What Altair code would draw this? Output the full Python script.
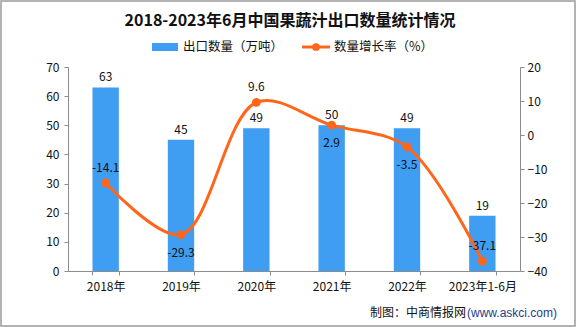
import altair as alt
import pandas as pd

# ---- data ----
years = ["2018年", "2019年", "2020年", "2021年", "2022年", "2023年1-6月"]
volume = [63, 45, 49, 50, 49, 19]          # 出口数量（万吨）
growth = [-14.1, -29.3, 9.6, 2.9, -3.5, -37.1]  # 数量增长率（%）

title_text = "2018-2023年6月中国果蔬汁出口数量统计情况"
legend_bar = "出口数量（万吨）"
legend_line = "数量增长率（%）"
source_a = "制图：中商情报网"
source_b = "(www.askci.com)"

# label placement (style)
growth_above = ["2018年", "2020年", "2023年1-6月"]

df = pd.DataFrame({"year": years, "volume": volume, "growth": growth})
df["glabel"] = [f"{g:.1f}" for g in growth]

BAR = "#3F9DF2"
LINE = "#FF661A"
AXC = "#8C8C8C"
FONT = "Noto Sans CJK SC"

xenc = alt.X("year:N", sort=years, title=None,
             scale=alt.Scale(paddingInner=0.65, paddingOuter=0.325),
             axis=alt.Axis(labelAngle=0, tickBand="extent", domainColor=AXC, tickColor=AXC,
                           tickSize=4, labelPadding=6, labelFontSize=12, labelColor="#111",
                           labelFont=FONT, grid=False))

base = alt.Chart(df)

yleft = alt.Y("volume:Q", title=None,
              scale=alt.Scale(domain=[0, 70], nice=False),
              axis=alt.Axis(values=list(range(0, 71, 10)), domainColor=AXC, tickColor=AXC,
                            tickSize=4, labelPadding=5, labelFontSize=12, labelColor="#111",
                            labelFont=FONT, grid=False, title=None))

bars = base.mark_bar(color=BAR).encode(x=xenc, y=yleft)
bar_text = base.mark_text(dy=-10, fontSize=12, font=FONT, color="#111", baseline="middle").encode(
    x=xenc, y=yleft, text="volume:Q")
left = alt.layer(bars, bar_text)

yline = alt.Y("growth:Q", title=None,
              scale=alt.Scale(domain=[-40, 20], nice=False),
              axis=alt.Axis(orient="right", values=list(range(-40, 21, 10)), domainColor=AXC,
                            tickColor=AXC, tickSize=4, labelPadding=3, labelFontSize=12,
                            labelColor="#111", labelFont=FONT, grid=False, title=None))

line = base.mark_line(color=LINE, strokeWidth=3, interpolate="catmull-rom").encode(
    x=xenc, y=yline)
pts = base.mark_point(color=LINE, filled=True, opacity=1, size=80).encode(
    x=xenc, y=yline)
lab_above = base.transform_filter(
    alt.FieldOneOfPredicate(field="year", oneOf=growth_above)
).mark_text(dy=-15, fontSize=12, font=FONT, color="#111").encode(
    x=xenc, y=yline, text="glabel:N")
lab_below = base.transform_filter(
    ~alt.FieldOneOfPredicate(field="year", oneOf=growth_above)
).mark_text(dy=18, fontSize=12, font=FONT, color="#111").encode(
    x=xenc, y=yline, text="glabel:N")
right = alt.layer(line, pts, lab_above, lab_below)

one = alt.Chart(pd.DataFrame({"k": [0]}))

title = one.mark_text(fontSize=16, fontWeight="bold", font=FONT, color="#111",
                      align="center", baseline="middle").encode(
    x=alt.value(222), y=alt.value(-46), text=alt.value(title_text))
sw = one.mark_rect(color=BAR).encode(
    x=alt.value(84), x2=alt.value(110), y=alt.value(-24), y2=alt.value(-16))
sw_t = one.mark_text(fontSize=12.5, font=FONT, color="#111", align="left", baseline="middle").encode(
    x=alt.value(115), y=alt.value(-20), text=alt.value(legend_bar))
ln = one.mark_rule(color=LINE, strokeWidth=3).encode(
    x=alt.value(234), x2=alt.value(262), y=alt.value(-20))
ln_p = one.mark_point(color=LINE, filled=True, opacity=1, size=60).encode(
    x=alt.value(248), y=alt.value(-20))
ln_t = one.mark_text(fontSize=12.5, font=FONT, color="#111", align="left", baseline="middle").encode(
    x=alt.value(266), y=alt.value(-20), text=alt.value(legend_line))
src_a = one.mark_text(fontSize=12, font=FONT, color="#111", align="left", baseline="middle").encode(
    x=alt.value(302), y=alt.value(246), text=alt.value(source_a))
src_b = one.mark_text(fontSize=12, font="Liberation Sans", color="#1F3C88", align="left",
                      baseline="middle").encode(
    x=alt.value(399), y=alt.value(246), text=alt.value(source_b))
border = one.mark_rect(fill=None, stroke="#9A9A9A", strokeWidth=1.5).encode(
    x=alt.value(-67), x2=alt.value(507), y=alt.value(-66), y2=alt.value(259))

chart = alt.layer(
    left, right, title, sw, sw_t, ln, ln_p, ln_t, src_a, src_b, border
).resolve_scale(y="independent").properties(
    width=452, height=204,
    padding={"left": 68, "top": 67, "right": 56, "bottom": 56},
    autosize=alt.AutoSizeParams(type="none"),
    background="white",
).configure_view(stroke=None)

chart.save("out.html", embed_options={"renderer": "svg", "actions": False})
